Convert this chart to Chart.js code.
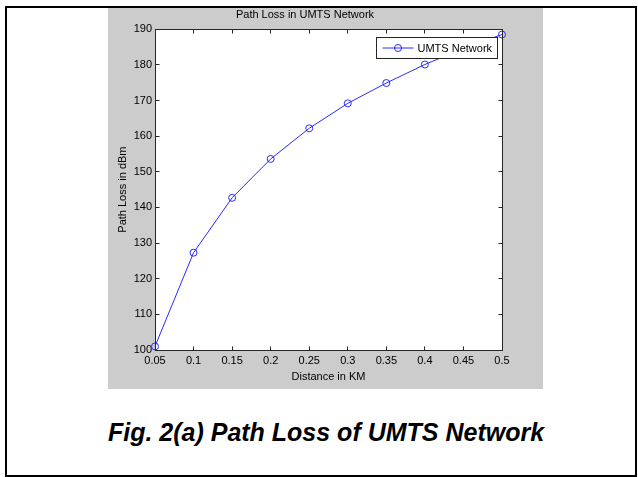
<!DOCTYPE html>
<html>
<head>
<meta charset="utf-8">
<script src="https://cdn.jsdelivr.net/npm/chart.js@4.4.1/dist/chart.umd.min.js"></script>
<style>
  html, body { margin: 0; padding: 0; background: #fff; width: 638px; height: 477px; overflow: hidden; }
  #frame { position: absolute; left: 5px; top: 6px; width: 632px; height: 471px; box-sizing: border-box; border: 2px solid #000; }
  #panel { position: absolute; left: 108px; top: 8px; width: 435px; height: 381px; background: #cccccc; }
  #panel canvas { display: block; }
  #caption { position: absolute; left: 6px; top: 420px; width: 640px; text-align: center;
             font: italic bold 25px/25px "Liberation Sans", Arial, sans-serif; color: #000; }
</style>
</head>
<body>
<div id="frame"></div>
<div id="panel"><canvas id="plot" width="435" height="381"></canvas></div>
<div id="caption">Fig. 2(a) Path Loss of UMTS Network</div>

<script>
// Distance from the base station (km) and the resulting path loss (dBm)
const distanceKm  = [0.05, 0.10, 0.15, 0.20, 0.25, 0.30, 0.35, 0.40, 0.45, 0.50];
const pathLossDbm = [101.0, 127.3, 142.7, 153.6, 162.2, 169.2, 174.9, 180.1, 184.6, 188.5];

// Axis ticks
const xTickValues = [0.05, 0.10, 0.15, 0.20, 0.25, 0.30, 0.35, 0.40, 0.45, 0.50];
const xTickLabels = ['0.05', '0.1', '0.15', '0.2', '0.25', '0.3', '0.35', '0.4', '0.45', '0.5'];
const yTickValues = [100, 110, 120, 130, 140, 150, 160, 170, 180, 190];
const yTickLabels = ['100', '110', '120', '130', '140', '150', '160', '170', '180', '190'];

const seriesName = 'UMTS Network';
const lineBlue = '#2a2aff';
const axisInk = '#262626';

Chart.defaults.font.family = '"Liberation Sans", Arial, sans-serif';
Chart.defaults.font.size = 11;
Chart.defaults.color = '#000';

// White plotting surface inside the grey figure panel
const plotSurface = {
  id: 'plotSurface',
  beforeDraw(chart) {
    const { ctx, chartArea: a } = chart;
    ctx.save();
    ctx.fillStyle = '#fff';
    ctx.fillRect(a.left, a.top, a.right - a.left, a.bottom - a.top);
    ctx.restore();
  }
};

// Boxed axes with inward tick marks on all four sides, plus an in-plot legend
const boxedAxes = {
  id: 'boxedAxes',
  afterDatasetsDraw(chart) {
    const { ctx, chartArea: a, scales: { x, y } } = chart;
    const L = Math.floor(a.left) + 0.5, R = Math.floor(a.right) + 0.5;
    const T = Math.floor(a.top) + 0.5, B = Math.floor(a.bottom) + 0.5;
    const tl = 4;
    ctx.save();
    ctx.strokeStyle = axisInk;
    ctx.lineWidth = 1;
    ctx.strokeRect(L, T, R - L, B - T);
    ctx.beginPath();
    x.ticks.forEach(t => {
      const px = Math.floor(x.getPixelForValue(t.value)) + 0.5;
      ctx.moveTo(px, B); ctx.lineTo(px, B - tl);
      ctx.moveTo(px, T); ctx.lineTo(px, T + tl);
    });
    y.ticks.forEach(t => {
      const py = Math.floor(y.getPixelForValue(t.value)) + 0.5;
      ctx.moveTo(L, py); ctx.lineTo(L + tl, py);
      ctx.moveTo(R, py); ctx.lineTo(R - tl, py);
    });
    ctx.stroke();

    // legend box
    const ds = chart.data.datasets[0];
    ctx.font = '11px "Liberation Sans", Arial, sans-serif';
    const tw = ctx.measureText(ds.label).width;
    const w = Math.round(46 + tw), h = 21;
    const bx = Math.floor(a.right) - 5 - w + 0.5;
    const by = Math.floor(a.top) + 8 + 0.5;
    ctx.fillStyle = '#fff';
    ctx.fillRect(bx, by, w, h);
    ctx.strokeStyle = axisInk;
    ctx.strokeRect(bx, by, w, h);
    const cy = by + h / 2;
    ctx.strokeStyle = ds.borderColor;
    ctx.beginPath();
    ctx.moveTo(bx + 6, cy); ctx.lineTo(bx + 37, cy);
    ctx.stroke();
    ctx.beginPath();
    ctx.arc(bx + 21.5, cy, 3.5, 0, Math.PI * 2);
    ctx.stroke();
    ctx.fillStyle = '#000';
    ctx.textBaseline = 'middle';
    ctx.textAlign = 'left';
    ctx.fillText(ds.label, bx + 41, cy + 0.5);
    ctx.restore();
  }
};

new Chart(document.getElementById('plot'), {
  type: 'line',
  data: {
    datasets: [{
      label: seriesName,
      data: distanceKm.map((d, i) => ({ x: d, y: pathLossDbm[i] })),
      borderColor: lineBlue,
      borderWidth: 1,
      pointStyle: 'circle',
      pointRadius: 3.5,
      pointBorderWidth: 1,
      pointBorderColor: lineBlue,
      pointBackgroundColor: 'rgba(0,0,0,0)',
      tension: 0,
      fill: false,
      clip: false
    }]
  },
  options: {
    responsive: false,
    animation: false,
    devicePixelRatio: 1,
    layout: { padding: { left: 0, right: 41, top: 0, bottom: 0 } },
    plugins: {
      legend: { display: false },
      tooltip: { enabled: false },
      title: {
        display: true,
        text: 'Path Loss in UMTS Network',
        color: '#000',
        font: { size: 11, weight: 'normal' },
        padding: { top: 0, bottom: 8 }
      }
    },
    scales: {
      x: {
        type: 'linear',
        min: 0.05,
        max: 0.5,
        afterBuildTicks: s => { s.ticks = xTickValues.map(v => ({ value: v })); },
        afterFit: s => { s.height = 39; },
        grid: { display: false, drawTicks: false },
        border: { display: false },
        ticks: {
          autoSkip: false, maxRotation: 0, padding: 4, color: '#000',
          callback: (v, i) => xTickLabels[i]
        },
        title: { display: true, text: 'Distance in KM', color: '#000', padding: { top: 0, bottom: 5 } }
      },
      y: {
        type: 'linear',
        min: 100,
        max: 190,
        afterBuildTicks: s => { s.ticks = yTickValues.map(v => ({ value: v })); },
        afterFit: s => { s.width = 47; },
        grid: { display: false, drawTicks: false },
        border: { display: false },
        ticks: {
          autoSkip: false, padding: 3, color: '#000',
          callback: (v, i) => yTickLabels[i]
        },
        title: { display: true, text: 'Path Loss in dBm', color: '#000', padding: { top: 8, bottom: 0 } }
      }
    }
  },
  plugins: [plotSurface, boxedAxes]
});
</script>
</body>
</html>
